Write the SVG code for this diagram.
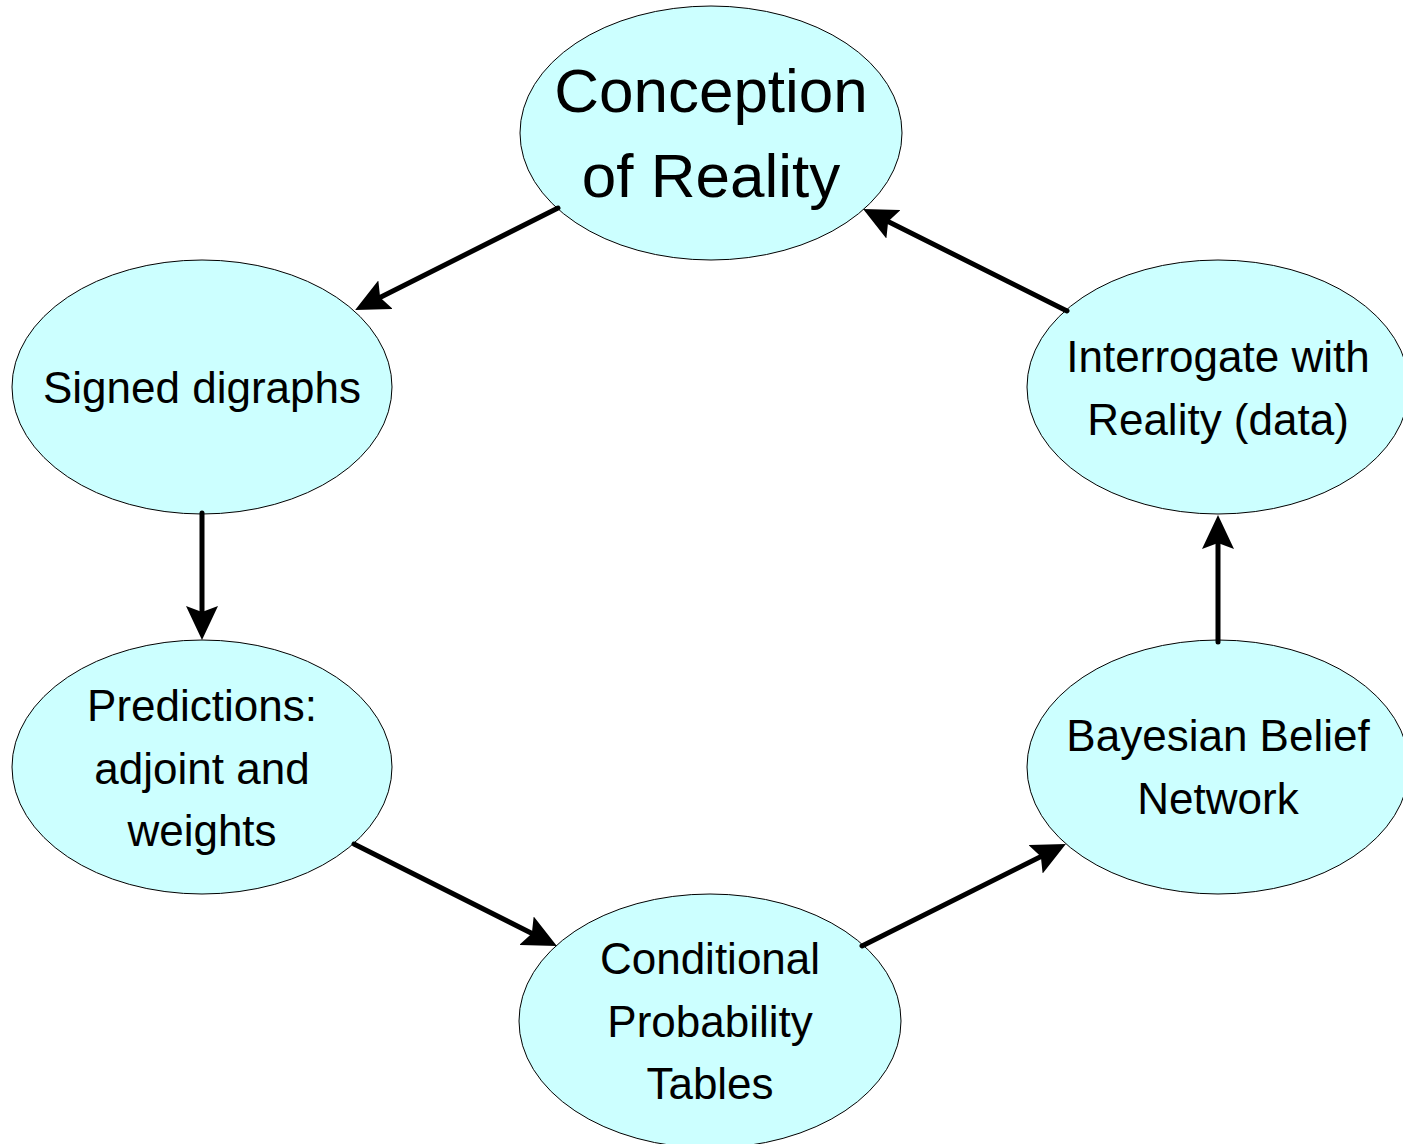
<svg xmlns="http://www.w3.org/2000/svg" width="1403" height="1144" viewBox="0 0 1403 1144">
<style>
.node{fill:#CCFFFF;stroke:#000;stroke-width:1}
.lbl{font-family:"Liberation Sans",Arial,sans-serif;font-size:44px;fill:#000;text-anchor:middle}
.big{font-size:62px}
.edge{stroke:#000;stroke-width:5;stroke-linecap:round;fill:none;marker-end:url(#ah)}
</style>
<defs>
<marker id="ah" viewBox="0 0 34 32" refX="14" refY="16" markerWidth="34" markerHeight="32" orient="auto" markerUnits="userSpaceOnUse">
<path d="M34,16 L0,0 L6,16 L0,32 Z" fill="#000"/>
</marker>
</defs>
<rect width="1403" height="1144" fill="#fff"/>
<g id="n-conception">
<ellipse class="node" cx="711" cy="133" rx="191" ry="127"/>
<text class="lbl big" x="711" y="112">Conception</text>
<text class="lbl big" x="711" y="197">of Reality</text>
</g>
<g id="n-signed">
<ellipse class="node" cx="202" cy="387" rx="190" ry="127"/>
<text class="lbl" x="202" y="403">Signed digraphs</text>
</g>
<g id="n-predictions">
<ellipse class="node" cx="202" cy="767" rx="190" ry="127"/>
<text class="lbl" x="202" y="721">Predictions:</text>
<text class="lbl" x="202" y="784">adjoint and</text>
<text class="lbl" x="202" y="846">weights</text>
</g>
<g id="n-conditional">
<ellipse class="node" cx="710" cy="1021" rx="191" ry="127"/>
<text class="lbl" x="710" y="974">Conditional</text>
<text class="lbl" x="710" y="1037">Probability</text>
<text class="lbl" x="710" y="1099">Tables</text>
</g>
<g id="n-bayesian">
<ellipse class="node" cx="1218" cy="767" rx="191" ry="127"/>
<text class="lbl" x="1218" y="751">Bayesian Belief</text>
<text class="lbl" x="1218" y="814">Network</text>
</g>
<g id="n-interrogate">
<ellipse class="node" cx="1218" cy="387" rx="191" ry="127"/>
<text class="lbl" x="1218" y="372">Interrogate with</text>
<text class="lbl" x="1218" y="435">Reality (data)</text>
</g>
<g id="connectors">
<line class="edge" x1="558" y1="208" x2="373" y2="301"/>
<line class="edge" x1="202" y1="513" x2="202" y2="620"/>
<line class="edge" x1="354" y1="844" x2="539" y2="937"/>
<line class="edge" x1="862" y1="946" x2="1048" y2="853"/>
<line class="edge" x1="1218" y1="642" x2="1218" y2="535"/>
<line class="edge" x1="1067" y1="311" x2="881" y2="218"/>
</g>
</svg>
